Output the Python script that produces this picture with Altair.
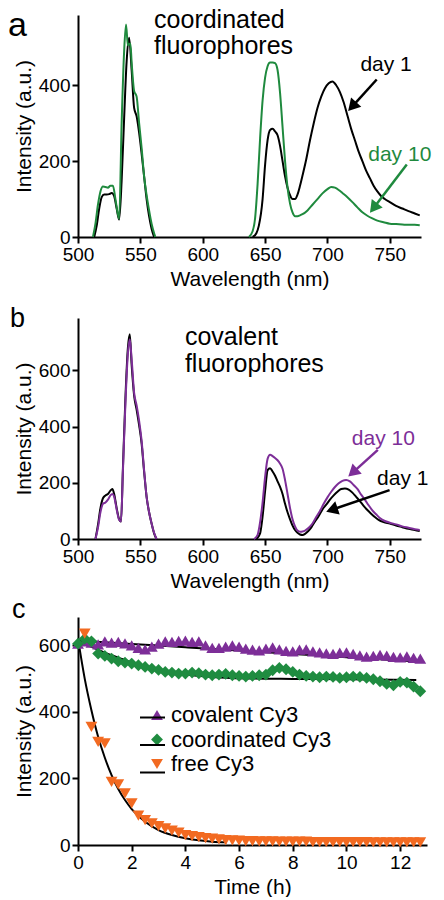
import math
import altair as alt
import pandas as pd

FONT = "Liberation Sans"
GREEN = "#1f8a3e"
PURPLE = "#7d2e98"
ORANGE = "#f26a21"

# ---------------- Panel a : coordinated fluorophores ----------------
a_d1_nm = [513, 515, 517, 519, 521, 523, 525, 527, 529, 531, 533, 535, 537, 539, 541, 543, 545, 547, 549, 551, 553, 555, 557, 559, 561,
           640, 643, 645, 648, 650, 652, 654, 656, 658, 660, 662, 664, 666, 668, 670, 672, 674, 676, 678, 680, 683, 686, 689, 692, 695,
           698, 701, 704, 707, 710, 713, 716, 719, 722, 725, 728, 731, 734, 737, 740, 743, 746, 750, 755, 760, 765, 770, 774]
a_d1_val = [0, 30, 75, 105, 112, 112, 113, 116, 108, 75, 46, 150, 314, 463, 525, 440, 340, 318, 275, 220, 160, 100, 55, 22, 0,
            0, 10, 30, 100, 190, 255, 282, 285, 278, 268, 240, 200, 160, 130, 110, 100, 100, 112, 135, 162, 205, 255, 300, 340, 370,
            392, 405, 410, 400, 382, 355, 320, 285, 255, 225, 200, 175, 155, 135, 120, 108, 100, 92, 82, 75, 68, 62, 57]
a_d10_nm = [512, 514, 516, 518, 520, 522, 524, 526, 528, 530, 532, 533, 535, 537, 538.5, 540, 542, 543, 545, 547, 549, 551, 553, 555, 557, 559, 561, 562,
            637, 640, 642, 644, 646, 648, 650, 652, 654, 656, 658, 660, 662, 664, 666, 668, 670, 672, 674, 676, 678, 680, 684, 688, 692,
            696, 700, 703, 706, 709, 712, 716, 720, 724, 728, 732, 736, 740, 745, 750, 755, 760, 765, 770, 774]
a_d10_val = [0, 35, 85, 120, 133, 132, 130, 135, 135, 100, 60, 48, 300, 490, 560, 505, 510, 460, 385, 370, 300, 235, 160, 110, 70, 35, 10, 0,
             0, 15, 50, 140, 260, 360, 420, 450, 460, 460, 458, 440, 380, 290, 200, 130, 88, 65, 55, 55, 57, 60, 70, 85, 100,
             115, 126, 132, 130, 124, 116, 105, 92, 78, 65, 56, 49, 43, 39, 35, 34, 33, 32, 32, 31]

# annotations panel a
a_txt_nm = [561, 561, 747, 758]
a_txt_val = [550, 482, 437, 200]
a_txt = ["coordinated", "fluorophores", "day 1", "day 10"]
a_arrow_start_nm = [739.5, 763.6]
a_arrow_start_val = [415, 191]
a_arrow_tip_nm = [716.6, 734.1]
a_arrow_tip_val = [332, 64]

# ---------------- Panel b : covalent fluorophores ----------------
b_d1_nm = [514, 516, 518, 520, 522, 524, 526, 527.5, 529, 531, 533, 534.5, 536, 538, 540, 541.5, 543, 545, 547, 549, 551, 553, 555, 557, 559, 561, 563,
           643, 646, 648, 650, 652, 654, 656, 658, 660, 662, 664, 666, 668, 670, 672, 674, 676, 678, 680, 682, 684, 686, 688, 690, 693,
           696, 699, 702, 705, 708, 711, 714, 717, 720, 723, 726, 729, 732, 735, 738, 741, 745, 750, 755, 760, 765, 770, 774]
b_d1_val = [0, 50, 110, 145, 155, 160, 172, 178, 160, 110, 70, 62, 250, 500, 680, 728, 620, 510, 460, 405, 340, 240, 150, 95, 55, 20, 0,
            0, 20, 80, 170, 245, 252, 240, 225, 205, 185, 160, 125, 95, 70, 48, 32, 22, 16, 14, 18, 26, 35, 48, 62, 82,
            105, 122, 140, 155, 168, 178, 180, 176, 165, 150, 135, 118, 103, 90, 78, 68, 60, 55, 48, 42, 36, 32, 28]
b_d10_nm = [514, 516, 518, 520, 522, 524, 526, 527.5, 529, 531, 533, 534.5, 536, 538, 540, 541.5, 543, 545, 547, 549, 551, 553, 555, 557, 559, 561, 563,
            641, 644, 646, 648, 650, 652, 654, 656, 658, 660, 662, 664, 666, 668, 670, 672, 674, 676, 678, 680, 682, 685, 688, 691,
            694, 697, 700, 703, 706, 709, 712, 715, 718, 721, 724, 727, 730, 733, 736, 739, 742, 746, 750, 755, 760, 765, 770, 774]
b_d10_val = [0, 40, 95, 125, 130, 140, 155, 160, 150, 105, 68, 62, 240, 480, 660, 710, 640, 520, 475, 420, 350, 245, 150, 95, 55, 22, 0,
             0, 15, 60, 130, 220, 285, 300, 295, 288, 280, 268, 250, 210, 160, 110, 70, 45, 30, 26, 27, 30, 40, 55, 78,
             100, 125, 148, 168, 185, 198, 207, 210, 205, 192, 178, 158, 140, 120, 102, 88, 75, 64, 58, 52, 45, 40, 35, 32]

b_txt_nm = [585.7, 585.7, 744.8, 760.4]
b_txt_val = [690, 595, 334, 192]
b_txt = ["covalent", "fluorophores", "day 10", "day 1"]
b_arrow_start_nm = [740.4, 749.8]
b_arrow_start_val = [317, 174]
b_arrow_tip_nm = [716.7, 699]
b_arrow_tip_val = [222, 97]

# ---------------- Panel c : photobleaching ----------------
c_time = [0, 0.25, 0.5, 0.75, 1, 1.25, 1.5, 1.75, 2, 2.25, 2.5, 2.75, 3, 3.25, 3.5, 3.75, 4, 4.25, 4.5, 4.75,
          5, 5.25, 5.5, 5.75, 6, 6.25, 6.5, 6.75, 7, 7.25, 7.5, 7.75, 8, 8.25, 8.5, 8.75, 9, 9.25, 9.5, 9.75,
          10, 10.25, 10.5, 10.75, 11, 11.25, 11.5, 11.75, 12, 12.25, 12.5, 12.75]
c_covalent = [605, 612, 608, 603, 612, 608, 610, 606, 600, 592, 588, 596, 605, 612, 610, 613, 614, 610, 612, 600,
              592, 592, 596, 600, 596, 590, 587, 585, 590, 594, 588, 583, 582, 587, 588, 582, 579, 576, 574, 578,
              579, 574, 570, 566, 568, 571, 569, 565, 564, 567, 562, 560]
c_coordinated = [605, 620, 612, 575, 568, 560, 552, 548, 545, 540, 535, 530, 526, 520, 518, 515, 515, 518, 516, 512,
                 510, 512, 514, 510, 508, 506, 508, 510, 512, 525, 532, 528, 520, 512, 508, 506, 504, 506, 505, 502,
                 504, 506, 505, 502, 498, 492, 484, 480, 490, 488, 476, 462]
c_free = [None, 635, 355, 310, 305, 190, 182, 155, 125, 88, 75, 65, 57, 50, 43, 37, 30, 27, 24, 21,
          19, 17, 15, 14, 13, 12, 12, 11, 11, 11, 10, 10, 10, 10, 10, 9, 9, 9, 9, 9,
          9, 9, 9, 9, 8, 8, 8, 8, 8, 8, 8, 8]

fit_cov_t = [0, 2, 4, 6, 8, 10, 12.6]
fit_cov_v = [614, 604, 594, 584, 574, 564, 551]
fit_coo_t = [0, 0.5, 1, 1.5, 2, 2.5, 3, 4, 5, 6, 8, 10, 12.6]
fit_coo_v = [615, 595, 578, 563, 548, 535, 525, 512, 505, 501, 499, 498, 496]
fit_free_t = [0, 0.25, 0.5, 0.75, 1, 1.25, 1.5, 1.75, 2, 2.5, 3, 3.5, 4, 4.5, 5, 5.55]
fit_free_v = [620, 500, 405, 325, 262, 210, 168, 135, 108, 70, 45, 30, 20, 14, 10, 8]

series_names = ["covalent Cy3", "coordinated Cy3", "free Cy3"]
fit_names = ["covalent fit", "coordinated fit", "free fit"]
series_colors = [PURPLE, "#1f8c40", ORANGE]
series_shapes = ["triangle-up", "diamond", "triangle-down"]

# ---------------- layout ----------------
WA, HA = 343, 222
WB, HB = 343, 221
WC, HC = 349, 228
XDOM = [500, 775]
YA = [0, 585]
YB = [0, 786]
YC = [0, 685]
XC = [0, 13]
HEAD = 190
LEG_Y = 689   # legend top, measured from the top-level origin (panel a plot origin)


def axis(values, title, **kw):
    return alt.Axis(values=values, title=title, grid=False, labelFlush=False, **kw)


def spectra(nm, val):
    return pd.DataFrame({"nm": nm, "val": val, "seg": ["vis" if w < 600 else "red" for w in nm]})


def arrows(snm, sval, tnm, tval, colors, pxx, pxy):
    rows = []
    for x0, y0, x1, y1, c in zip(snm, sval, tnm, tval, colors):
        dx = (x1 - x0) * pxx
        dy = -(y1 - y0) * pxy
        L = math.hypot(dx, dy)
        ux, uy = dx / L, dy / L
        h = 0.433 * math.sqrt(HEAD)
        cx = x1 - ux * h / pxx
        cy = y1 + uy * h / pxy
        ang = math.degrees(math.atan2(ux, -uy)) % 360
        rows.append({"nm": x0, "val": y0, "nm2": cx, "val2": cy, "cx": cx, "cy": cy, "ang": ang, "col": c})
    return pd.DataFrame(rows)


def spectra_panel(d1, d10, col10, ydom, yvals, W, H, txt_df, arr_df, label, label_size, label_y, label_x):
    xenc = alt.X("nm:Q", scale=alt.Scale(domain=XDOM, nice=False, zero=False),
                 axis=axis([500, 550, 600, 650, 700, 750], "Wavelength (nm)"))
    yenc = alt.Y("val:Q", scale=alt.Scale(domain=ydom, nice=False),
                 axis=axis(yvals, "Intensity (a.u.)"))
    l1 = alt.Chart(d1).mark_line(color="black", strokeWidth=2, interpolate="monotone").encode(
        x=xenc, y=yenc, detail="seg:N")
    l10 = alt.Chart(d10).mark_line(color=col10, strokeWidth=2, interpolate="monotone").encode(
        x=xenc, y=yenc, detail="seg:N")
    txt_big = alt.Chart(txt_df[txt_df["kind"] == "title"]).mark_text(
        align="left", baseline="alphabetic", fontSize=25, font=FONT).encode(
        x=xenc, y=yenc, text="text:N", color=alt.Color("col:N", scale=None))
    txt_day = alt.Chart(txt_df[txt_df["kind"] == "day"]).mark_text(
        align="center", baseline="alphabetic", fontSize=21, font=FONT).encode(
        x=xenc, y=yenc, text="text:N", color=alt.Color("col:N", scale=None))
    rule = alt.Chart(arr_df).mark_rule(strokeWidth=2.5).encode(
        x=xenc, y=yenc, x2="nm2:Q", y2="val2:Q", color=alt.Color("col:N", scale=None))
    head = alt.Chart(arr_df).mark_point(shape="triangle-up", filled=True, size=HEAD, opacity=1).encode(
        x=alt.X("cx:Q"), y=alt.Y("cy:Q"), angle=alt.Angle("ang:Q", scale=None),
        color=alt.Color("col:N", scale=None))
    lab = alt.Chart(pd.DataFrame({"t": [label]})).mark_text(
        align="left", baseline="alphabetic", fontSize=label_size, font=FONT, color="black").encode(
        x=alt.value(label_x), y=alt.value(label_y), text="t:N")
    return alt.layer(l1, l10, rule, head, txt_big, txt_day, lab).properties(width=W, height=H)


# panel a
dfa1 = spectra(a_d1_nm, a_d1_val)
dfa10 = spectra(a_d10_nm, a_d10_val)
txa = pd.DataFrame({"nm": a_txt_nm, "val": a_txt_val, "text": a_txt,
                    "col": ["black", "black", "black", GREEN], "kind": ["title", "title", "day", "day"]})
ara = arrows(a_arrow_start_nm, a_arrow_start_val, a_arrow_tip_nm, a_arrow_tip_val, ["black", GREEN],
             WA / (XDOM[1] - XDOM[0]), HA / (YA[1] - YA[0]))
pa = spectra_panel(dfa1, dfa10, GREEN, YA, [0, 200, 400], WA, HA, txa, ara, "a", 34, 21, -70)

# panel b
dfb1 = spectra(b_d1_nm, b_d1_val)
dfb10 = spectra(b_d10_nm, b_d10_val)
txb = pd.DataFrame({"nm": b_txt_nm, "val": b_txt_val, "text": b_txt,
                    "col": ["black", "black", PURPLE, "black"], "kind": ["title", "title", "day", "day"]})
arb = arrows(b_arrow_start_nm, b_arrow_start_val, b_arrow_tip_nm, b_arrow_tip_val, [PURPLE, "black"],
             WB / (XDOM[1] - XDOM[0]), HB / (YB[1] - YB[0]))
pb = spectra_panel(dfb1, dfb10, PURPLE, YB, [0, 200, 400, 600], WB, HB, txb, arb, "b", 27, 9, -68)

# panel c
rows = []
for name, vals in zip(series_names, [c_covalent, c_coordinated, c_free]):
    for t, v in zip(c_time, vals):
        if v is not None:
            rows.append({"t": t, "val": v, "series": name})
dfc = pd.DataFrame(rows)
fit_rows = []
for name, ts, vs in zip(fit_names, [fit_cov_t, fit_coo_t, fit_free_t], [fit_cov_v, fit_coo_v, fit_free_v]):
    for t, v in zip(ts, vs):
        fit_rows.append({"t": t, "val": v, "fit": name})
dff = pd.DataFrame(fit_rows)

xc = alt.X("t:Q", scale=alt.Scale(domain=XC, nice=False), axis=axis([0, 2, 4, 6, 8, 10, 12], "Time (h)"))
yc = alt.Y("val:Q", scale=alt.Scale(domain=YC, nice=False), axis=axis([0, 200, 400, 600], "Intensity (a.u.)"))
sym_legend = dict(orient="none", legendX=68, legendY=LEG_Y, title=None,
                  symbolSize=140, symbolStrokeWidth=0, labelOffset=3, labelLimit=400,
                  labelFontSize=22, labelFont=FONT, rowPadding=2.5)
pts = alt.Chart(dfc).mark_point(filled=True, size=140, opacity=1).encode(
    x=xc, y=yc,
    color=alt.Color("series:N", scale=alt.Scale(domain=series_names, range=series_colors),
                    legend=alt.Legend(**sym_legend)),
    shape=alt.Shape("series:N", scale=alt.Scale(domain=series_names, range=series_shapes),
                    legend=alt.Legend(**sym_legend)),
)
fits = alt.Chart(dff).mark_line(strokeWidth=2, interpolate="monotone").encode(
    x=xc, y=yc,
    stroke=alt.Stroke("fit:N", scale=alt.Scale(domain=fit_names, range=["black", "black", "black"]),
                      legend=alt.Legend(orient="none", legendX=61, legendY=LEG_Y, title=None,
                                        symbolType="stroke", symbolSize=625, symbolStrokeWidth=2,
                                        labelOffset=8, labelExpr="' '",
                                        labelFontSize=22, labelFont=FONT, rowPadding=2.5)),
)
labc = alt.Chart(pd.DataFrame({"t": ["c"]})).mark_text(
    align="left", baseline="alphabetic", fontSize=27, font=FONT, color="black").encode(
    x=alt.value(-66), y=alt.value(1), text="t:N")
pc = alt.layer(fits, pts, labc).properties(width=WC, height=HC)

top = alt.vconcat(pa, pb, spacing=16)
chart = alt.vconcat(top, pc, spacing=5).properties(padding=0, background="white").configure_view(
    stroke=None
).configure_axis(
    domainColor="black", domainWidth=2, tickColor="black", tickWidth=2, tickSize=6,
    labelFont=FONT, labelFontSize=19, labelColor="black", labelPadding=2,
    titleFont=FONT, titleFontSize=21, titleFontWeight="normal", titleColor="black", titlePadding=4
).configure_legend(labelColor="black")

chart.save("out.html", embed_options={"renderer": "svg", "actions": False})
